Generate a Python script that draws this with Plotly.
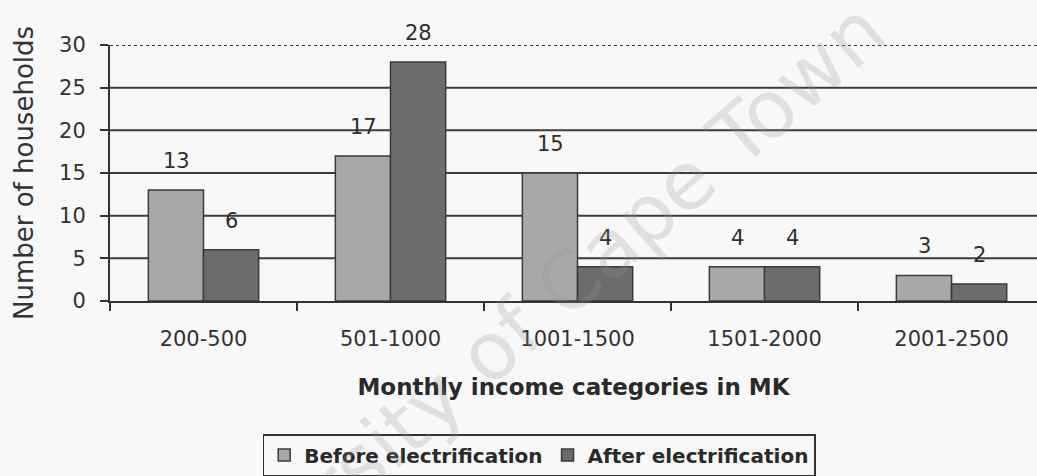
import plotly.graph_objects as go

# Household counts per monthly income band (MK)
categories = ["200-500", "501-1000", "1001-1500", "1501-2000", "2001-2500"]
before_electrification = [13, 17, 15, 4, 3]
after_electrification = [6, 28, 4, 4, 2]
y_tick_values = [0, 5, 10, 15, 20, 25, 30]

FONT = "DejaVu Sans"
INK = "#333333"
BG = "#f8f8f8"

fig = go.Figure()
fig.add_trace(go.Bar(
    name="Before electrification", x=categories, y=before_electrification,
    marker=dict(color="#a8a8a8", line=dict(color="#3a3a3a", width=1.5)),
))
fig.add_trace(go.Bar(
    name="After electrification", x=categories, y=after_electrification,
    marker=dict(color="#6c6c6c", line=dict(color="#3a3a3a", width=1.5)),
))

# value labels above each bar (half a bar width to either side of the category centre)
half_bar_px = 27.5
annotations = []
for sign, series in ((-1, before_electrification), (1, after_electrification)):
    for cat, val in zip(categories, series):
        annotations.append(dict(
            x=cat, y=val, xref="x", yref="y", text=str(val), showarrow=False,
            xshift=sign * half_bar_px, yshift=29, yanchor="middle",
            font=dict(family=FONT, size=21, color="#2e2e2e"),
        ))

# faint diagonal watermark
annotations.append(dict(
    text="University of Cape Town", xref="paper", yref="paper",
    x=0.431, y=-0.13, xanchor="center", yanchor="middle",
    showarrow=False, textangle=-41,
    font=dict(family=FONT, size=80, color="rgba(150,150,150,0.24)"),
))

# horizontal grid: solid rules, dotted rule along the top
shapes = []
for v in y_tick_values[1:]:
    shapes.append(dict(
        type="line", xref="paper", yref="y", x0=0, x1=1, y0=v, y1=v,
        layer="below",
        line=dict(color="#3c3c3c", width=2, dash="dot" if v == y_tick_values[-1] else "solid"),
    ))

fig.update_layout(
    width=1037, height=476,
    margin=dict(l=110, r=0, t=45, b=174),
    paper_bgcolor=BG, plot_bgcolor=BG,
    barmode="group", bargap=0.41, bargroupgap=0,
    font=dict(family=FONT, color=INK),
    annotations=annotations,
    shapes=shapes,
    showlegend=True,
    legend=dict(
        orientation="h", x=0.463, xanchor="center", y=-0.52, yanchor="top",
        bgcolor="rgba(0,0,0,0)", bordercolor="#333333", borderwidth=1.5,
        font=dict(family=FONT, size=20, color="#2a2a2a", weight="bold"),
        itemwidth=30, tracegroupgap=0,
    ),
    xaxis=dict(
        range=[-0.5, 4.457], showgrid=False,
        showline=True, linecolor="#333333", linewidth=2,
        ticks="outside", tickson="boundaries", ticklen=8, tickwidth=1.5, tickcolor="#333333",
        ticklabelstandoff=18,
        tickfont=dict(family=FONT, size=21, color=INK),
        title=dict(text="Monthly income categories in MK", standoff=29,
                   font=dict(family=FONT, size=23, color="#2a2a2a", weight="bold")),
        automargin=False,
    ),
    yaxis=dict(
        range=[0, 30], tickvals=y_tick_values, showgrid=False, zeroline=False,
        showline=True, linecolor="#333333", linewidth=2,
        ticks="outside", ticklen=8, tickwidth=1.5, tickcolor="#333333",
        ticklabelstandoff=10,
        tickfont=dict(family=FONT, size=21, color=INK),
        title=dict(text="Number of households", standoff=18,
                   font=dict(family=FONT, size=26, color=INK)),
        automargin=False,
    ),
)

fig.write_html("out.html")
